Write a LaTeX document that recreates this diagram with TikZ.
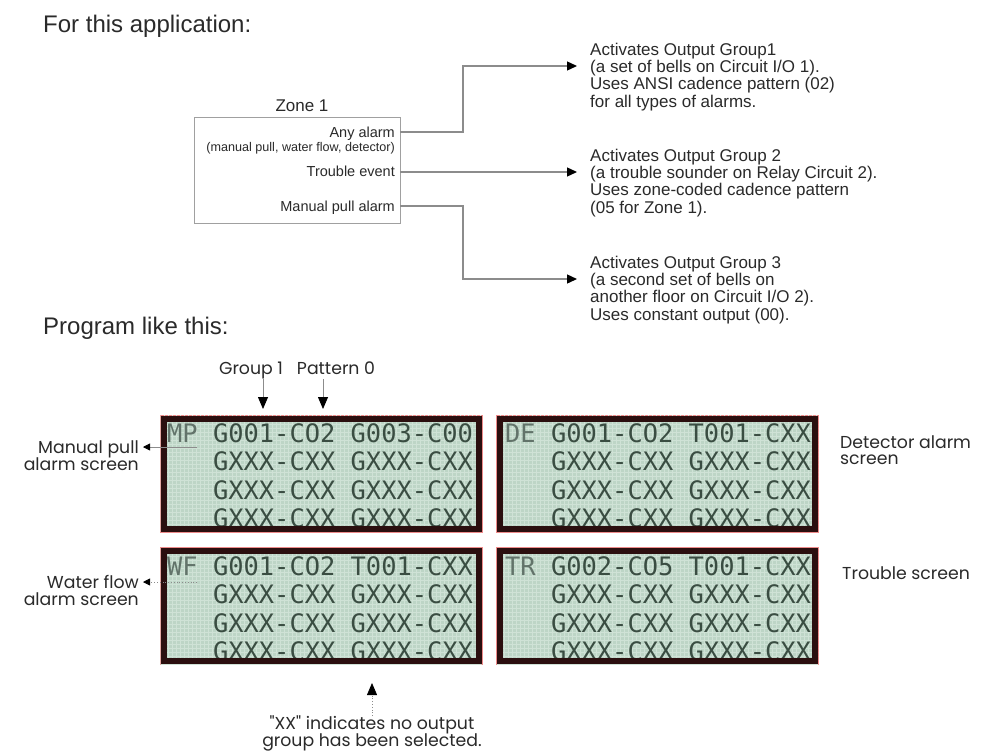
\documentclass[tikz,border=0pt]{standalone}
\usepackage{fontspec}
\setmainfont{Liberation Sans}
\newfontfamily\gothic{Poppins}
\newfontfamily\lcdfont{DejaVu Sans Mono}
\usetikzlibrary{arrows.meta}
\definecolor{linegray}{HTML}{8C8C8C}
\definecolor{boxgray}{HTML}{A0A0A0}
\definecolor{lcdbg}{HTML}{BDD5C6}
\definecolor{lcdgrid}{HTML}{CFE2D6}
\definecolor{lcdedge}{HTML}{2B0F0F}
\definecolor{lcdpink}{HTML}{EE8A8A}
\definecolor{lcdtext}{HTML}{3A4D42}
\definecolor{lcdlabel}{HTML}{62736A}
\definecolor{textc}{HTML}{2A2A2A}
\tikzset{
  txt/.style={inner sep=0pt, font=\fontsize{17}{20}\selectfont, text=textc, anchor=base west},
  head/.style={inner sep=0pt, font=\fontsize{24}{28}\selectfont, text=textc, anchor=base west},
  ztxt/.style={inner sep=0pt, font=\fontsize{14.5}{17}\selectfont, text=textc, anchor=base east},
  zsmall/.style={inner sep=0pt, font=\fontsize{12.6}{14}\selectfont, text=textc, anchor=base east},
  gtxt/.style={inner sep=0pt, font=\gothic\fontsize{17.3}{20}\selectfont, text=textc},
  lcdrow/.style={inner sep=0pt, font=\lcdfont\fontsize{25.4}{28}\selectfont, text=lcdtext, anchor=base west},
  zonebox/.style={draw=boxgray, line width=1pt, minimum width=206pt, minimum height=106pt, inner sep=0pt},
  lcdpanel/.style={draw=lcdpink, line width=1pt, fill=lcdbg, minimum width=322pt, minimum height=117pt, inner sep=0pt},
  conn/.style={draw=linegray, line width=1.3pt, -{Triangle[length=10pt,width=9pt,color=black]}},
  garrow/.style={draw=linegray, line width=0.8pt, -{Triangle[length=12pt,width=10pt,color=black]}},
  larrow/.style={draw=linegray, line width=0.8pt, -{Triangle[length=7pt,width=7pt,color=black]}},
}
\newcommand{\lcdlab}[1]{{\color{lcdlabel}#1}}
\begin{document}
\begin{tikzpicture}[x=1pt,y=-1pt]
\useasboundingbox[fill=white] (0,0) rectangle (981,753);

% headings
\node[head] (h1) at (43,32) {For this application:};
\node[head] (h2) at (43,334) {Program like this:};

% zone box
\node[inner sep=0pt, font=\fontsize{17}{20}\selectfont, text=textc, anchor=base] (zl) at (302,111) {Zone 1};
\node[zonebox] (zone) at (297,170) {};
\node[ztxt] (za) at (395,137) {Any alarm};
\node[zsmall] (zs) at (395,151.5) {(manual pull, water flow, detector)};
\node[ztxt] (zt) at (395,176) {Trouble event};
\node[ztxt] (zm) at (395,211) {Manual pull alarm};

% connectors
\coordinate (ca) at (400,132);
\coordinate (ct) at (400,172);
\coordinate (cm) at (400,206);
\coordinate (ta) at (577,66);
\coordinate (tt) at (577,172);
\coordinate (tm) at (577,279);
\draw[conn] (ca) -- (463,132) |- (ta);
\draw[conn] (ct) -- (tt);
\draw[conn] (cm) -- (463,206) |- (tm);

% output group texts
\node[txt] (b1a) at (590,55) {Activates Output Group1};
\node[txt] (b1b) at (590,72) {(a set of bells on Circuit I/O 1).};
\node[txt] (b1c) at (590,89.5) {Uses ANSI cadence pattern (02)};
\node[txt] (b1d) at (590,107) {for all types of alarms.};
\node[txt] (b2a) at (590,161) {Activates Output Group 2};
\node[txt] (b2b) at (590,178) {(a trouble sounder on Relay Circuit 2).};
\node[txt] (b2c) at (590,195.5) {Uses zone-coded cadence pattern};
\node[txt] (b2d) at (590,213) {(05 for Zone 1).};
\node[txt] (b3a) at (590,268) {Activates Output Group 3};
\node[txt] (b3b) at (590,285) {(a second set of bells on};
\node[txt] (b3c) at (590,302.5) {another floor on Circuit I/O 2).};
\node[txt] (b3d) at (590,320) {Uses constant output (00).};

% group / pattern labels
\node[gtxt, anchor=base] (gl) at (251,374) {Group 1};
\node[gtxt, anchor=base] (pl) at (336,374) {Pattern 0};
\coordinate (g1s) at (263,379);
\coordinate (g1t) at (263,409);
\coordinate (p0s) at (323,379);
\coordinate (p0t) at (323,409);
\draw[garrow] (g1s) -- (g1t);
\draw[garrow] (p0s) -- (p0t);

% LCD panels
\node[lcdpanel] (p1) at (321,473.5) {};
\node[lcdpanel] (p2) at (657.5,473.5) {};
\node[lcdpanel] (p3) at (321,606) {};
\node[lcdpanel] (p4) at (657.5,606) {};

\foreach \p in {p1,p2,p3,p4}{
  \begin{scope}
    \clip ([shift={(1pt,-1pt)}]\p.north west) rectangle ([shift={(-1pt,1pt)}]\p.south east);
    \draw[lcdgrid, line width=0.35pt, step=4pt] (\p.south west) grid (\p.north east);
  \end{scope}
}

% LCD text
\begin{scope}
  \clip (166,421) rectangle (476,526);
  \node[lcdrow] (r11) at (167,442) {\lcdlab{MP} G001-CO2 G003-C00};
  \node[lcdrow] (r12) at (167,470.5) {\phantom{MP} GXXX-CXX GXXX-CXX};
  \node[lcdrow] (r13) at (167,499) {\phantom{MP} GXXX-CXX GXXX-CXX};
  \node[lcdrow] (r14) at (167,527.5) {\phantom{MP} GXXX-CXX GXXX-CXX};
\end{scope}
\begin{scope}
  \clip (502.5,421) rectangle (812.5,526);
  \node[lcdrow] (r21) at (505,442) {\lcdlab{DE} G001-CO2 T001-CXX};
  \node[lcdrow] (r22) at (505,470.5) {\phantom{DE} GXXX-CXX GXXX-CXX};
  \node[lcdrow] (r23) at (505,499) {\phantom{DE} GXXX-CXX GXXX-CXX};
  \node[lcdrow] (r24) at (505,527.5) {\phantom{DE} GXXX-CXX GXXX-CXX};
\end{scope}
\begin{scope}
  \clip (166,553.5) rectangle (476,658.5);
  \node[lcdrow] (r31) at (167,575) {\lcdlab{WF} G001-CO2 T001-CXX};
  \node[lcdrow] (r32) at (167,603.5) {\phantom{WF} GXXX-CXX GXXX-CXX};
  \node[lcdrow] (r33) at (167,632) {\phantom{WF} GXXX-CXX GXXX-CXX};
  \node[lcdrow] (r34) at (167,660.5) {\phantom{WF} GXXX-CXX GXXX-CXX};
\end{scope}
\begin{scope}
  \clip (502.5,553.5) rectangle (812.5,658.5);
  \node[lcdrow] (r41) at (505,575) {\lcdlab{TR} G002-CO5 T001-CXX};
  \node[lcdrow] (r42) at (505,603.5) {\phantom{TR} GXXX-CXX GXXX-CXX};
  \node[lcdrow] (r43) at (505,632) {\phantom{TR} GXXX-CXX GXXX-CXX};
  \node[lcdrow] (r44) at (505,660.5) {\phantom{TR} GXXX-CXX GXXX-CXX};
\end{scope}

% panel borders
\foreach \p in {p1,p2,p3,p4}{
  \draw[lcdedge, line width=6pt] ([shift={(4pt,-4pt)}]\p.north west) rectangle ([shift={(-4pt,4pt)}]\p.south east);
}

% side labels
\coordinate (mpu) at (197,447);
\coordinate (mpt) at (143,447);
\draw[larrow] (mpu) -- (mpt);
\node[gtxt, anchor=base east] (ml1) at (139,453) {Manual pull};
\node[gtxt, anchor=base east] (ml2) at (139,470) {alarm screen};

\coordinate (wfu) at (197,582);
\coordinate (wft) at (143,582);
\draw[larrow, dotted] (wfu) -- (wft);
\node[gtxt, anchor=base east] (wl1) at (139,588) {Water flow};
\node[gtxt, anchor=base east] (wl2) at (139,605) {alarm screen};

\node[gtxt, anchor=base west] (dl1) at (840,448) {Detector alarm};
\node[gtxt, anchor=base west] (dl2) at (840,464) {screen};
\node[gtxt, anchor=base west] (tl1) at (842,579) {Trouble screen};

% XX note
\coordinate (xxs) at (372,716);
\coordinate (xxt) at (372,683);
\draw[garrow, dotted] (xxs) -- (xxt);
\node[gtxt, anchor=base] (xx1) at (372,729) {"XX" indicates no output};
\node[gtxt, anchor=base] (xx2) at (372,746) {group has been selected.};
\end{tikzpicture}
\end{document}
